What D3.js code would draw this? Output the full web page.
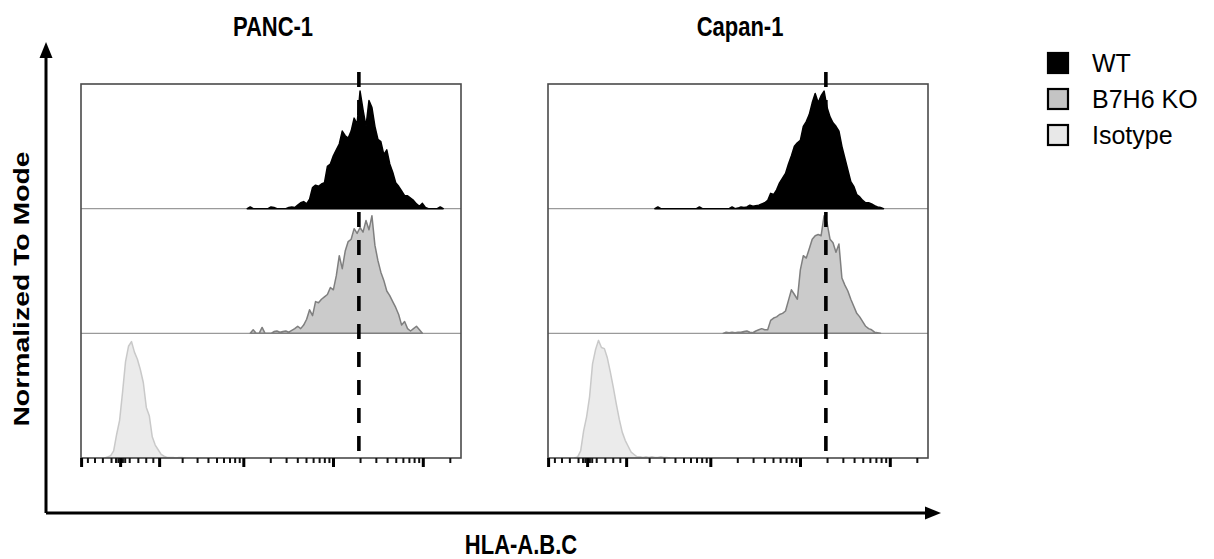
<!DOCTYPE html>
<html>
<head>
<meta charset="utf-8">
<script src="https://cdn.jsdelivr.net/npm/d3@7"></script>
<style>
  body { margin: 0; background: #fff; }
  text { font-family: Arial, "Liberation Sans", sans-serif; fill: #000; }
</style>
</head>
<body>
<svg id="chart" width="1214" height="559"></svg>
<script>
const panelTitles = ["PANC-1", "Capan-1"];
const seriesNames = ["WT", "B7H6 KO", "Isotype"];

// histogram heights in % of mode, one value per display channel (128 channels span the axis)
const pancWTStart = 56;
const pancWT = [0, 1.5, 0, 0, 0, 0, 0, 0, 1.5, 1, 0, 0, 0, 0, 1, 1.5, 1, 3, 5, 6, 4, 8,
  18, 20, 19, 21, 22, 36, 38, 45, 50, 55, 66, 62, 60, 66, 77, 72, 100, 84, 70, 92, 86, 70,
  59, 57, 46, 50, 38, 31, 22, 19, 15, 11, 11, 9, 7, 4, 2, 4.5, 1, 0, 0, 0, 0, 1.5, 0];
const pancKOStart = 57;
const pancKO = [0, 3, 0, 0, 5, 0, 0, 0, 1.5, 2, 1, 1.5, 2, 1, 2.5, 4, 6, 4, 7, 12, 20, 15,
  27, 26, 29, 31, 33, 39, 37, 49, 66, 55, 70, 78, 80, 89, 85, 90, 86, 96, 88, 100, 75, 62,
  52, 45, 36, 32, 27, 22, 16, 7, 10, 4, 2, 4, 6, 3, 0];
const pancIsoStart = 8;
const pancIso = [0, 1, 2, 6, 20, 32, 56, 82, 95, 99, 90, 84, 75, 64, 43, 36, 18, 11, 7, 3,
  1.5, 0.5, 0.5, 0.5, 0, 0.5, 0.5, 0];

const capanWTStart = 36;
const capanWT = [0, 1.5, 0, 0, 0, 0, 0, 0, 0, 0, 0, 0, 0, 0, 0, 1.5, 0, 0, 0, 0, 0, 0, 0,
  0, 0, 0, 1.5, 0, 0.5, 1.5, 1, 1.5, 3, 2, 2.5, 3, 4, 5, 7, 13, 12, 16, 22, 26, 30, 38, 45,
  53, 56, 58, 70, 74, 80, 90, 98, 90, 96, 100, 86, 78, 73, 70, 66, 53, 43, 33, 23, 19, 12,
  10, 7, 5, 5, 4, 2.5, 1.5, 1, 0];
const capanKOStart = 59;
const capanKO = [0, 1, 0.5, 1, 0.5, 1, 1, 1.5, 2, 1, 0.5, 2, 3, 4, 3, 3, 11, 13, 14, 16, 17,
  19, 28, 37, 33, 29, 54, 66, 64, 72, 80, 83, 84, 83, 100, 94, 80, 77, 69, 76, 47, 41, 36,
  29, 23, 17, 14, 10, 6, 4, 3, 1, 0.5, 0];
const capanIsoStart = 9;
const capanIso = [0, 1, 6, 23, 35, 52, 80, 92, 100, 94, 93, 85, 73, 60, 46, 33, 22, 15, 10,
  5, 3, 1, 1, 0.5, 1, 0.5, 1, 0.5, 0.5, 1, 0.5, 0.5, 0];

// biexponential axis ticks (fluorescence values)
const majorTicks = [-100, 0, 100, 1000, 10000, 100000];
const minorTicks = [-80, -60, -40, -20, -10, -5, 5, 10, 20, 40, 60, 80,
  200, 300, 400, 500, 600, 700, 800, 900,
  2000, 3000, 4000, 5000, 6000, 7000, 8000, 9000,
  20000, 30000, 40000, 50000, 60000, 70000, 80000, 90000, 200000];

// channel of the WT mode marked with the dashed line
const modeChannel = 93.6;

const seriesStyles = [
  { fill: "#000000", stroke: "#000000", swatch: "#000000" },
  { fill: "#cbcbcb", stroke: "#7f7f7f", swatch: "#c4c4c4" },
  { fill: "#ebebeb", stroke: "#c9c9c9", swatch: "#e8e8e8" },
];

const panels = [
  { title: panelTitles[0], left: 81, series: [
    { start: pancWTStart, counts: pancWT },
    { start: pancKOStart, counts: pancKO },
    { start: pancIsoStart, counts: pancIso },
  ] },
  { title: panelTitles[1], left: 548, series: [
    { start: capanWTStart, counts: capanWT },
    { start: capanKOStart, counts: capanKO },
    { start: capanIsoStart, counts: capanIso },
  ] },
];

const svg = d3.select("#chart");
const panelW = 380;
const panelH = 374;
const panelTop = 84;
const rowH = panelH / 3;
const stretch = 1.22; // the figure is a bit taller than wide, text included

const x = d3.scaleLinear().domain([0, 128]).range([0, panelW]);
const y = d3.scaleLinear().domain([0, 106]).range([rowH, 0]);
const biex = (v) => Math.asinh(v / 85);
const channelOf = d3.scaleLinear().domain([biex(-100), biex(100000)]).range([0.2, 115.3]);
const tickX = (v) => x(channelOf(biex(v)));

const area = d3
  .area()
  .x((d) => x(d.ch))
  .y0(rowH)
  .y1((d) => y(d.v));

panels.forEach((panel) => {
  const g = svg.append("g").attr("transform", `translate(${panel.left},${panelTop})`);

  g.append("text")
    .attr("transform", `translate(${panelW / 2 + 2},-48) scale(1,${stretch})`)
    .attr("text-anchor", "middle")
    .attr("font-size", 22)
    .attr("font-weight", "bold")
    .text(panel.title);

  // row baselines
  g.selectAll("line.sep")
    .data([1, 2])
    .join("line")
    .attr("class", "sep")
    .attr("x1", 0)
    .attr("x2", panelW)
    .attr("y1", (d) => d * rowH)
    .attr("y2", (d) => d * rowH)
    .attr("stroke", "#9a9a9a")
    .attr("stroke-width", 1.2);

  panel.series.forEach((s, i) => {
    const pts = s.counts.map((v, j) => ({ ch: s.start + j, v }));
    g.append("path")
      .datum(pts)
      .attr("transform", `translate(0,${i * rowH})`)
      .attr("d", area)
      .attr("fill", seriesStyles[i].fill)
      .attr("stroke", seriesStyles[i].stroke)
      .attr("stroke-width", 1.5)
      .attr("stroke-linejoin", "round");
  });

  g.append("rect")
    .attr("width", panelW)
    .attr("height", panelH)
    .attr("fill", "none")
    .attr("stroke", "#4a4a4a")
    .attr("stroke-width", 1.6);

  g.selectAll("line.minor")
    .data(minorTicks)
    .join("line")
    .attr("class", "minor")
    .attr("x1", tickX)
    .attr("x2", tickX)
    .attr("y1", panelH)
    .attr("y2", panelH + 5)
    .attr("stroke", "#111")
    .attr("stroke-width", 2);

  g.selectAll("line.major")
    .data(majorTicks)
    .join("line")
    .attr("class", "major")
    .attr("x1", tickX)
    .attr("x2", tickX)
    .attr("y1", panelH)
    .attr("y2", panelH + 9)
    .attr("stroke", "#000")
    .attr("stroke-width", 3);

  g.append("line")
    .attr("x1", x(modeChannel))
    .attr("x2", x(modeChannel))
    .attr("y1", -12)
    .attr("y2", 367)
    .attr("stroke", "#000")
    .attr("stroke-width", 3.6)
    .attr("stroke-dasharray", "15,13");
});

// outer axis arrows
const axisG = svg.append("g");
axisG.append("path")
  .attr("d", "M46,513V56M46,513H926")
  .attr("fill", "none")
  .attr("stroke", "#000")
  .attr("stroke-width", 3);
axisG.append("path").attr("d", "M46,42L39.5,58H52.5Z").attr("fill", "#000");
axisG.append("path").attr("d", "M941,513L925,506.5V519.5Z").attr("fill", "#000");

svg.append("text")
  .attr("transform", `translate(521,554) scale(1,${stretch})`)
  .attr("text-anchor", "middle")
  .attr("font-size", 22)
  .attr("font-weight", "bold")
  .text("HLA-A.B.C");

svg.append("text")
  .attr("transform", "translate(29,289) rotate(-90) scale(1.29,1)")
  .attr("text-anchor", "middle")
  .attr("font-size", 22)
  .attr("font-weight", "bold")
  .text("Normalized To Mode");

// legend
const legend = svg.append("g").attr("transform", "translate(1048,53)");
const items = legend
  .selectAll("g")
  .data(seriesNames)
  .join("g")
  .attr("transform", (d, i) => `translate(0,${i * 36})`);
items.append("rect")
  .attr("width", 20)
  .attr("height", 20)
  .attr("fill", (d, i) => seriesStyles[i].swatch)
  .attr("stroke", "#000")
  .attr("stroke-width", 2.2);
items.append("text")
  .attr("x", 44)
  .attr("y", 19)
  .attr("font-size", 25)
  .text((d) => d);
</script>
</body>
</html>
